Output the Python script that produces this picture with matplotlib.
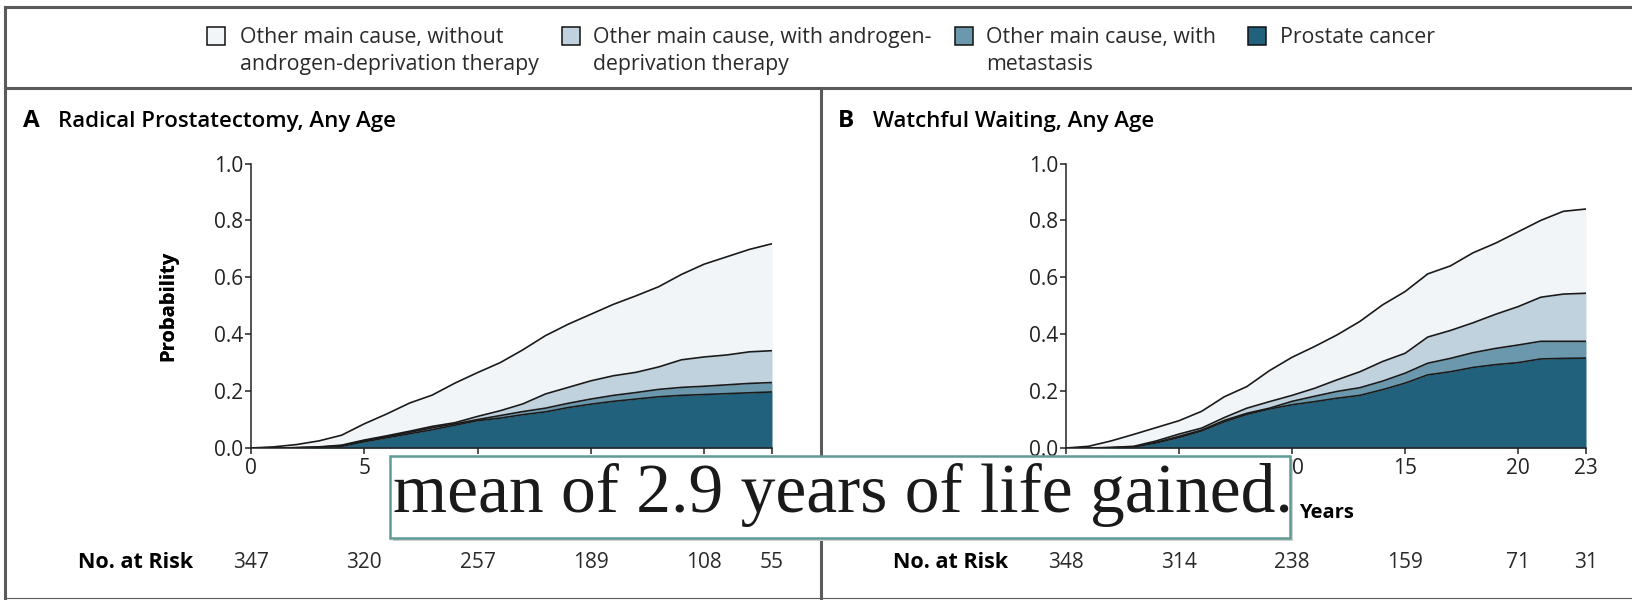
import matplotlib
matplotlib.use("Agg")
import matplotlib.pyplot as plt
from matplotlib.lines import Line2D
from matplotlib.patches import Rectangle
import numpy as np

plt.rcParams['font.family'] = ['Open Sans', 'DejaVu Sans']

W, H = 1633, 600

years = np.arange(0, 24)

# cumulative incidence, each list is the top of its band (stacked from below)
rp_cancer = [0, 0, 0.001, 0.002, 0.006, 0.022, 0.036, 0.050, 0.064, 0.080, 0.096, 0.105,
             0.117, 0.127, 0.142, 0.154, 0.164, 0.172, 0.180, 0.185, 0.188, 0.191, 0.194, 0.197]
rp_metastasis = [0, 0, 0.001, 0.003, 0.008, 0.026, 0.040, 0.055, 0.071, 0.085, 0.100, 0.114,
                 0.128, 0.140, 0.157, 0.172, 0.185, 0.195, 0.206, 0.213, 0.217, 0.222, 0.227, 0.230]
rp_adt = [0, 0, 0.001, 0.004, 0.010, 0.028, 0.043, 0.059, 0.076, 0.089, 0.111, 0.131,
          0.155, 0.190, 0.213, 0.236, 0.254, 0.266, 0.285, 0.310, 0.320, 0.327, 0.338, 0.342]
rp_all = [0, 0.004, 0.012, 0.025, 0.045, 0.085, 0.120, 0.158, 0.186, 0.228, 0.265, 0.300,
          0.345, 0.395, 0.435, 0.470, 0.505, 0.535, 0.567, 0.610, 0.646, 0.672, 0.698, 0.718]

ww_cancer = [0, 0, 0.001, 0.004, 0.018, 0.037, 0.060, 0.092, 0.118, 0.137, 0.152, 0.163,
             0.175, 0.185, 0.205, 0.228, 0.257, 0.268, 0.283, 0.293, 0.300, 0.313, 0.315, 0.316]
ww_metastasis = [0, 0, 0.001, 0.004, 0.020, 0.041, 0.063, 0.097, 0.122, 0.140, 0.164, 0.182,
                 0.199, 0.212, 0.235, 0.263, 0.298, 0.315, 0.335, 0.350, 0.362, 0.375, 0.375, 0.375]
ww_adt = [0, 0, 0.002, 0.006, 0.025, 0.049, 0.070, 0.107, 0.140, 0.163, 0.185, 0.210,
          0.240, 0.268, 0.304, 0.333, 0.390, 0.413, 0.440, 0.470, 0.497, 0.530, 0.541, 0.544]
ww_all = [0, 0.006, 0.025, 0.048, 0.072, 0.096, 0.129, 0.180, 0.216, 0.272, 0.319, 0.357,
          0.398, 0.445, 0.503, 0.550, 0.612, 0.640, 0.686, 0.720, 0.760, 0.800, 0.832, 0.840]

risk_years = [0, 5, 10, 15, 20, 23]
rp_at_risk = [347, 320, 257, 189, 108, 55]
ww_at_risk = [348, 314, 238, 159, 71, 31]

legend_labels = ["Other main cause, without\nandrogen-deprivation therapy",
                 "Other main cause, with androgen-\ndeprivation therapy",
                 "Other main cause, with\nmetastasis",
                 "Prostate cancer"]
band_colors = ['#f2f5f8', '#bfd2dd', '#6c98ae', '#22617c']

fig = plt.figure(figsize=(W / 100, H / 100), dpi=100)


def fx(px):
    return px / W


def fy(px):
    return 1 - px / H


def panel(left, right, letter, title, curves, at_risk):
    ax = fig.add_axes([fx(left), fy(448), fx(right - left), (448 - 163.5) / H])
    bottoms = [np.zeros(len(years))] + [np.array(c) for c in curves[:-1]]
    fills = band_colors[::-1]
    for lo, hi, col in zip(bottoms, curves, fills):
        ax.fill_between(years, lo, hi, color=col, lw=0)
    for c in curves:
        ax.plot(years, c, color='#1a1a1a', lw=1.2)
    ax.set_xlim(0, 23)
    ax.set_ylim(0, 1)
    for s in ['top', 'right']:
        ax.spines[s].set_visible(False)
    for s in ['left', 'bottom']:
        ax.spines[s].set_linewidth(1.1)
        ax.spines[s].set_color('#222222')
    ax.set_xticks(risk_years)
    ax.set_yticks([0, 0.2, 0.4, 0.6, 0.8, 1.0])
    ax.set_yticklabels(['0.0', '0.2', '0.4', '0.6', '0.8', '1.0'])
    ax.tick_params(direction='out', length=4.5, width=1.1, labelsize=15, colors='#222222')
    ax.tick_params(axis='y', pad=1)
    ax.tick_params(axis='x', pad=3)
    ax.set_ylabel('Probability', fontsize=14.5, fontweight='bold')
    ax.yaxis.set_label_coords((178 - left) / (right - left), 0.5)
    fig.text(fx(left - 228), fy(121), letter, fontsize=17.5, fontweight='bold', va='center')
    fig.text(fx(left - 193), fy(121), title, fontsize=16, fontweight='semibold', va='center')
    fig.text(fx((left + right) / 2), fy(513), 'Years', fontsize=14.5, fontweight='bold',
             ha='center', va='center')
    fig.text(fx(left - 173), fy(562), 'No. at Risk', fontsize=15.5, fontweight='bold',
             va='center')
    for yr, n in zip(risk_years, at_risk):
        xp = left + (right - left) * yr / 23
        fig.text(fx(xp), fy(562), str(n), fontsize=15, ha='center', va='center',
                 color='#2a2a2a')
    return ax


panel(251, 772, 'A', 'Radical Prostatectomy, Any Age',
      [rp_cancer, rp_metastasis, rp_adt, rp_all], rp_at_risk)
panel(1066, 1586, 'B', 'Watchful Waiting, Any Age',
      [ww_cancer, ww_metastasis, ww_adt, ww_all], ww_at_risk)

# legend row across the top
patch_x = [207, 562, 955, 1248]
text_x = [240, 593, 986, 1280]
for px, tx, lab, col in zip(patch_x, text_x, legend_labels, band_colors):
    fig.add_artist(Rectangle((fx(px), fy(45)), fx(18), 18 / H, transform=fig.transFigure,
                             facecolor=col, edgecolor='#111111', lw=1.1))
    fig.text(fx(tx), fy(27), lab, fontsize=15.3, va='top', ha='left',
             linespacing=1.4, color='#2a2a2a')

# frame lines
frame = '#5a5a5a'
for xs, ys in [([5, W], [7, 7]), ([5, W], [88, 88]), ([5, 5], [7, 599]),
               ([821, 821], [88, 600]), ([5, W], [598, 598])]:
    fig.add_artist(Line2D([fx(v) for v in xs], [fy(v) for v in ys], color=frame,
                          lw=2.2 if ys[0] != 598 else 0.8, transform=fig.transFigure))

# caption box laid over the lower middle
fig.add_artist(Rectangle((fx(393), fy(541)), fx(900), 82 / H, transform=fig.transFigure,
                         facecolor='#d0d0d0', edgecolor='none', zorder=9))
fig.add_artist(Rectangle((fx(390), fy(538)), fx(900), 82 / H, transform=fig.transFigure,
                         facecolor='white', edgecolor='#5f9a95', lw=1.8, zorder=10))
fig.text(fx(393), fy(512), 'mean of 2.9 years of life gained.', family='Liberation Serif',
         fontsize=50, va='baseline', ha='left', color='#1a1a1a', zorder=11)

fig.savefig('out.png', dpi=100)
